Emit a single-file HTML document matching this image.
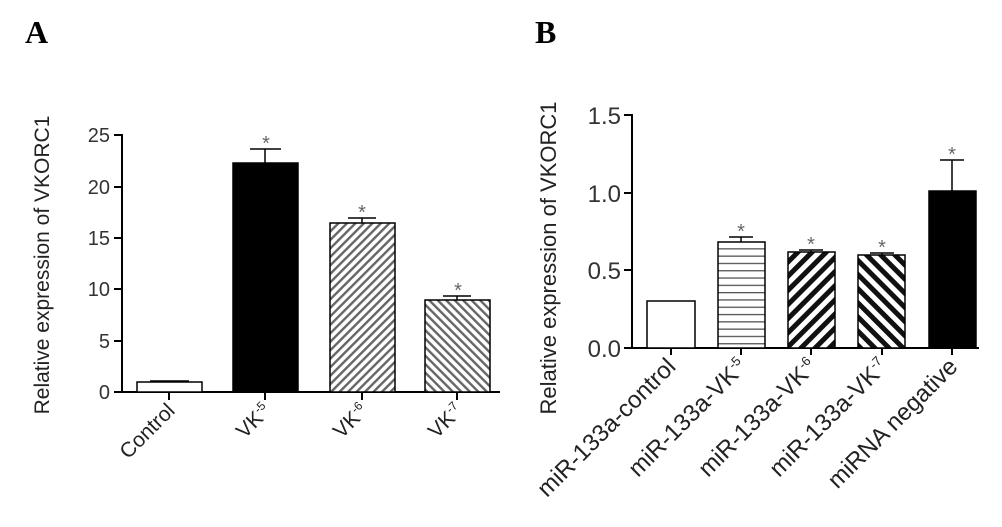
<!DOCTYPE html>
<html><head><style>body{margin:0;background:#fff}svg{display:block}</style></head><body>
<svg width="1002" height="527" viewBox="0 0 1002 527" font-family="Liberation Sans, Arial, sans-serif">
<defs>
<pattern id="pA6" patternUnits="userSpaceOnUse" width="6" height="6" patternTransform="rotate(45)"><rect width="6" height="6" fill="#fff"/><rect width="2.4" height="6" fill="#666"/></pattern>
<pattern id="pA7" patternUnits="userSpaceOnUse" width="6" height="6" patternTransform="rotate(-45)"><rect width="6" height="6" fill="#fff"/><rect width="2.4" height="6" fill="#666"/></pattern>
<pattern id="pH" patternUnits="userSpaceOnUse" width="8" height="7.3"><rect width="8" height="7.3" fill="#fff"/><rect y="0" width="8" height="1.3" fill="#555"/></pattern>
<pattern id="pB6" patternUnits="userSpaceOnUse" width="10" height="10" patternTransform="rotate(45)"><rect width="10" height="10" fill="#fff"/><rect width="5" height="10" fill="#111"/></pattern>
<pattern id="pB7" patternUnits="userSpaceOnUse" width="10" height="10" patternTransform="rotate(-45)"><rect width="10" height="10" fill="#fff"/><rect width="5" height="10" fill="#111"/></pattern>
</defs>
<text x="25" y="43" font-family="Liberation Serif, serif" font-weight="bold" font-size="32">A</text>
<text x="535" y="43" font-family="Liberation Serif, serif" font-weight="bold" font-size="32">B</text>
<g stroke="#000" stroke-width="2" fill="none">
<line x1="122" y1="134" x2="122" y2="393"/>
<line x1="121" y1="392" x2="500" y2="392"/>
<line x1="114" y1="135" x2="122" y2="135"/><line x1="114" y1="187" x2="122" y2="187"/><line x1="114" y1="238" x2="122" y2="238"/><line x1="114" y1="289" x2="122" y2="289"/><line x1="114" y1="341" x2="122" y2="341"/><line x1="114" y1="392" x2="122" y2="392"/>
<line x1="169" y1="392" x2="169" y2="400"/><line x1="265" y1="392" x2="265" y2="400"/><line x1="362" y1="392" x2="362" y2="400"/><line x1="457" y1="392" x2="457" y2="400"/>
<line x1="632" y1="114" x2="632" y2="349"/>
<line x1="631" y1="348" x2="979" y2="348"/>
<line x1="624" y1="115" x2="632" y2="115"/><line x1="624" y1="193" x2="632" y2="193"/><line x1="624" y1="270" x2="632" y2="270"/><line x1="624" y1="348" x2="632" y2="348"/>
<line x1="671" y1="348" x2="671" y2="355"/><line x1="741" y1="348" x2="741" y2="355"/><line x1="811" y1="348" x2="811" y2="355"/><line x1="882" y1="348" x2="882" y2="355"/><line x1="952" y1="348" x2="952" y2="355"/>
</g>
<g stroke="#000" stroke-width="1.5">
<rect x="137" y="382" width="65" height="10" fill="#fff"/>
<rect x="233" y="163" width="65" height="229" fill="#000"/>
<rect x="330" y="223" width="65" height="169" fill="url(#pA6)"/>
<rect x="425" y="300" width="65" height="92" fill="url(#pA7)"/>
<line x1="150" y1="381" x2="189" y2="381"/>
<line x1="265" y1="163" x2="265" y2="149"/><line x1="250" y1="149" x2="281" y2="149"/>
<line x1="362" y1="223" x2="362" y2="218"/><line x1="348" y1="218" x2="376" y2="218"/>
<line x1="457" y1="300" x2="457" y2="296"/><line x1="443" y1="296" x2="471" y2="296"/>
</g>
<g stroke="#000" stroke-width="1.5">
<rect x="647" y="301" width="48" height="47" fill="#fff"/>
<rect x="718" y="242" width="47" height="106" fill="url(#pH)"/>
<rect x="788" y="252" width="47" height="96" fill="url(#pB6)"/>
<rect x="858" y="255" width="47" height="93" fill="url(#pB7)"/>
<rect x="929" y="191" width="47" height="157" fill="#000"/>
<line x1="741" y1="242" x2="741" y2="237"/><line x1="729" y1="237" x2="753" y2="237"/>
<line x1="811" y1="252" x2="811" y2="250"/><line x1="799" y1="250" x2="823" y2="250"/>
<line x1="882" y1="255" x2="882" y2="253"/><line x1="870" y1="253" x2="894" y2="253"/>
<line x1="952" y1="191" x2="952" y2="160"/><line x1="940" y1="160" x2="964" y2="160"/>
</g>
<g fill="#666" font-size="20" text-anchor="middle">
<text x="266" y="150">*</text><text x="362" y="219">*</text><text x="458" y="297">*</text>
<text x="741" y="238">*</text><text x="811" y="251">*</text><text x="882" y="254">*</text><text x="952" y="161">*</text>
</g>
<g font-size="20" fill="#333" text-anchor="end">
<text x="110" y="142">25</text><text x="110" y="194">20</text><text x="110" y="245">15</text><text x="110" y="296">10</text><text x="110" y="348">5</text><text x="110" y="399">0</text>
</g>
<g font-size="24" fill="#333" text-anchor="end">
<text x="621" y="124">1.5</text><text x="621" y="202">1.0</text><text x="621" y="279">0.5</text><text x="621" y="357">0.0</text>
</g>
<text transform="translate(49,265) rotate(-90)" text-anchor="middle" font-size="21" fill="#222">Relative expression of VKORC1</text>
<text transform="translate(556,258) rotate(-90)" text-anchor="middle" font-size="22" fill="#222">Relative expression of VKORC1</text>
<g font-size="21" fill="#222" text-anchor="end">
<text transform="translate(176,412) rotate(-45)">Control</text>
<text transform="translate(272,412) rotate(-45)">VK<tspan font-size="12" dy="-8">-5</tspan></text>
<text transform="translate(369,412) rotate(-45)">VK<tspan font-size="12" dy="-8">-6</tspan></text>
<text transform="translate(464,412) rotate(-45)">VK<tspan font-size="12" dy="-8">-7</tspan></text>
</g>
<g font-size="24" fill="#222" text-anchor="end">
<text transform="translate(677,368) rotate(-45)">miR-133a-control</text>
<text transform="translate(748,368) rotate(-45)">miR-133a-VK<tspan font-size="13" dy="-9">-5</tspan></text>
<text transform="translate(818,368) rotate(-45)">miR-133a-VK<tspan font-size="13" dy="-9">-6</tspan></text>
<text transform="translate(889,368) rotate(-45)">miR-133a-VK<tspan font-size="13" dy="-9">-7</tspan></text>
<text transform="translate(959,368) rotate(-45)">miRNA negative</text>
</g>
</svg>
</body></html>
